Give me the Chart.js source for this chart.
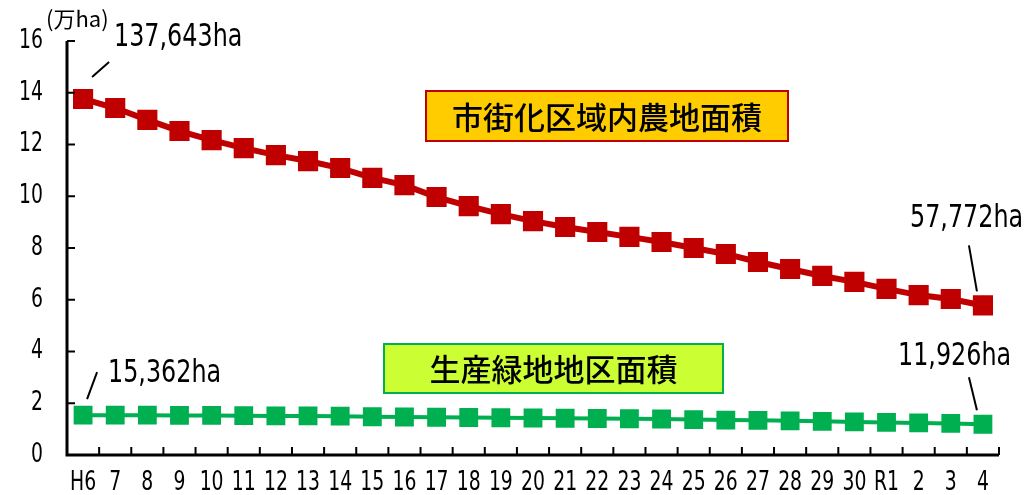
<!DOCTYPE html>
<html>
<head>
<meta charset="utf-8">
<script src="https://cdn.jsdelivr.net/npm/chart.js@4"></script>
<style>
  html, body { margin: 0; padding: 0; background: #fff; }
  #wrap { width: 1028px; height: 495px; position: relative; }
</style>
</head>
<body>
<div id="wrap"><canvas id="chart"></canvas></div>
<script>
// categories (Heisei 6 .. Reiwa 4)
const years = ['H6','7','8','9','10','11','12','13','14','15','16','17','18','19','20',
               '21','22','23','24','25','26','27','28','29','30','R1','2','3','4'];

// 万ha
const urbanFarmland = [13.76, 13.41, 12.95, 12.52, 12.17, 11.86, 11.59, 11.36, 11.09, 10.71,
                       10.43, 9.97, 9.62, 9.31, 9.04, 8.81, 8.62, 8.43, 8.23, 8.00,
                       7.77, 7.46, 7.19, 6.92, 6.69, 6.42, 6.18, 6.03, 5.78];
const greenLand = [1.54, 1.54, 1.54, 1.53, 1.53, 1.52, 1.51, 1.51, 1.50, 1.48,
                   1.47, 1.46, 1.45, 1.44, 1.43, 1.42, 1.41, 1.40, 1.39, 1.37,
                   1.35, 1.34, 1.32, 1.30, 1.28, 1.26, 1.24, 1.22, 1.19];

const yTicks = [0, 2, 4, 6, 8, 10, 12, 14, 16];

const numFont = "'DejaVu Sans Condensed', 'Liberation Sans', sans-serif";
const jpFont = "'Noto Sans CJK JP', sans-serif";

// tall narrow text, like the original condensed gothic
function tallText(ctx, text, x, y, size, align, sx) {
    ctx.save();
    ctx.translate(x, y);
    ctx.scale(sx || 0.95, 1.22);
    ctx.font = size + "px " + numFont;
    ctx.textAlign = align;
    ctx.textBaseline = 'middle';
    ctx.fillStyle = '#000';
    ctx.fillText(text, 0, 0);
    ctx.restore();
}

// axes, inner tick marks, tick labels, boxes and value labels
const decorPlugin = {
    id: 'decor',
    afterDraw(chart) {
        const ctx = chart.ctx;
        const area = chart.chartArea;
        const xs = chart.scales.x;
        const ys = chart.scales.y;
        ctx.save();

        // axis lines
        ctx.strokeStyle = '#000';
        ctx.lineWidth = 3;
        ctx.beginPath();
        ctx.moveTo(area.left, ys.getPixelForValue(16));
        ctx.lineTo(area.left, area.bottom);
        ctx.lineTo(area.right, area.bottom);
        ctx.stroke();

        // inner ticks
        ctx.lineWidth = 2;
        ctx.beginPath();
        yTicks.forEach(v => {
            const y = ys.getPixelForValue(v);
            ctx.moveTo(area.left, y);
            ctx.lineTo(area.left + 8, y);
        });
        const step = (area.right - area.left) / years.length;
        for (let i = 1; i <= years.length; i++) {
            const x = area.left + i * step;
            ctx.moveTo(x, area.bottom);
            ctx.lineTo(x, area.bottom - 8);
        }
        ctx.stroke();

        // tick labels
        ys.ticks.forEach(t => {
            tallText(ctx, String(t.value), 43, ys.getPixelForValue(t.value), 22, 'right');
        });
        xs.ticks.forEach((t, i) => {
            tallText(ctx, years[t.value], xs.getPixelForTick(i), 483, 22, 'center');
        });

        // unit
        ctx.fillStyle = '#000';
        ctx.font = "22px " + jpFont;
        ctx.textBaseline = 'middle';
        ctx.textAlign = 'left';
        ctx.fillText('(万ha)', 46, 19);

        // series boxes
        function box(x, y, w, h, fill, border, text) {
            ctx.fillStyle = fill;
            ctx.fillRect(x, y, w, h);
            ctx.strokeStyle = border;
            ctx.lineWidth = 2;
            ctx.strokeRect(x, y, w, h);
            ctx.fillStyle = '#000';
            ctx.font = "500 31px " + jpFont;
            ctx.textAlign = 'center';
            ctx.textBaseline = 'middle';
            ctx.fillText(text, x + w / 2, y + h / 2 + 1);
        }
        box(426, 91, 362, 50, '#FFCC00', '#C00000', '市街化区域内農地面積');
        box(384, 344, 339, 49, '#CCFF33', '#00B050', '生産緑地地区面積');

        // value labels with leader lines
        function callout(ds, idx, dx1, dy1, dx2, dy2, text, tx, ty) {
            const pt = chart.getDatasetMeta(ds).data[idx];
            ctx.strokeStyle = '#000';
            ctx.lineWidth = 2;
            ctx.beginPath();
            ctx.moveTo(pt.x + dx1, pt.y + dy1);
            ctx.lineTo(pt.x + dx2, pt.y + dy2);
            ctx.stroke();
            tallText(ctx, text, tx, ty, 26, 'left', 1.02);
        }
        const last = years.length - 1;
        callout(0, 0, 9, -22, 26, -37, '137,643ha', 114, 38);
        callout(1, 0, 4, -16, 14, -43, '15,362ha', 108, 374);
        callout(0, last, -6, -14, -14, -60, '57,772ha', 910, 219);
        callout(1, last, -6, -14, -14, -47, '11,926ha', 898, 357);

        ctx.restore();
    }
};

document.addEventListener('DOMContentLoaded', function() {
    Chart.defaults.font.family = numFont;
    Chart.defaults.color = '#000';

    const ctx = document.getElementById('chart').getContext('2d');
    new Chart(ctx, {
        type: 'line',
        data: {
            labels: years,
            datasets: [
                {
                    label: '市街化区域内農地面積',
                    data: urbanFarmland,
                    borderColor: '#C00000',
                    backgroundColor: '#C00000',
                    borderWidth: 6,
                    pointStyle: 'rect',
                    pointRadius: 10,
                    pointHoverRadius: 10,
                    tension: 0
                },
                {
                    label: '生産緑地地区面積',
                    data: greenLand,
                    borderColor: '#00B050',
                    backgroundColor: '#00B050',
                    borderWidth: 4,
                    pointStyle: 'rect',
                    pointRadius: 10.5,
                    pointHoverRadius: 10.5,
                    tension: 0
                }
            ]
        },
        options: {
            responsive: true,
            maintainAspectRatio: false,
            animation: false,
            layout: { padding: { top: 41, right: 29, left: 0, bottom: 0 } },
            plugins: {
                legend: { display: false },
                tooltip: { enabled: false }
            },
            scales: {
                x: {
                    offset: true,
                    grid: { display: false, drawTicks: false },
                    border: { display: false },
                    ticks: { display: false, autoSkip: false },
                    afterFit(scale) { scale.height = 40; }
                },
                y: {
                    min: 0,
                    max: 16,
                    grid: { display: false, drawTicks: false },
                    border: { display: false },
                    ticks: { display: false, stepSize: 2 },
                    afterFit(scale) { scale.width = 67; }
                }
            }
        },
        plugins: [decorPlugin]
    });
});
</script>
</body>
</html>
